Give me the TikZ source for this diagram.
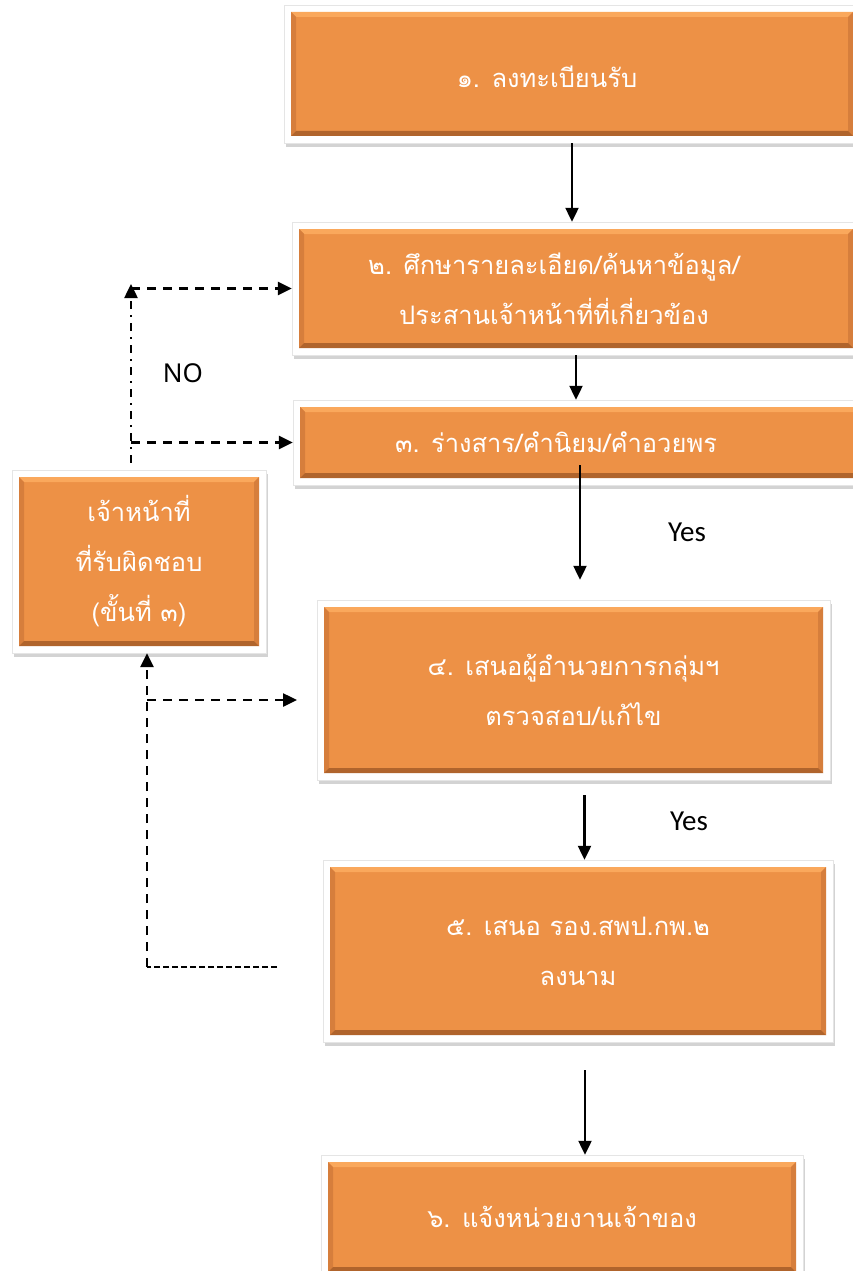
\documentclass[tikz,border=0pt]{standalone}
\usepackage{fontspec}
\usetikzlibrary{arrows.meta, shadows}
\newfontfamily\thaifont[Script=Thai]{Loma}
\newfontfamily\yesfont{Carlito}
\newfontfamily\nofont{Noto Sans}
\definecolor{boxorange}{RGB}{237,145,70}
\definecolor{bevlight}{RGB}{250,168,92}
\definecolor{bevside}{RGB}{214,126,60}
\definecolor{bevdark}{RGB}{176,100,44}

% orange face with a bevelled edge, inside the white frame
\newcommand{\bevelface}{%
  \coordinate (p1) at ([shift={(7pt,7pt)}]path picture bounding box.south west);
  \coordinate (p2) at ([shift={(-7pt,7pt)}]path picture bounding box.south east);
  \coordinate (p3) at ([shift={(-7pt,-7pt)}]path picture bounding box.north east);
  \coordinate (p4) at ([shift={(7pt,-7pt)}]path picture bounding box.north west);
  \fill[boxorange] (p1) rectangle (p3);
  \fill[bevlight] (p4) -- (p3) -- ([shift={(-5pt,-5pt)}]p3) -- ([shift={(5pt,-5pt)}]p4) -- cycle;
  \fill[bevside] (p4) -- (p1) -- ([shift={(5pt,5pt)}]p1) -- ([shift={(5pt,-5pt)}]p4) -- cycle;
  \fill[bevside] (p3) -- (p2) -- ([shift={(-5pt,5pt)}]p2) -- ([shift={(-5pt,-5pt)}]p3) -- cycle;
  \fill[bevdark] (p1) -- (p2) -- ([shift={(-5pt,5pt)}]p2) -- ([shift={(5pt,5pt)}]p1) -- cycle;
}

\begin{document}
\begin{tikzpicture}
  [
    x = 1pt, y = -1pt,  % one unit per pixel, downwards
    stepbox/.style = {rectangle, fill=white, draw=black!10, inner sep=0pt,
      drop shadow={shadow xshift=1.5pt, shadow yshift=-4pt, opacity=.35},
      path picture={\bevelface}},
    steptext/.style = {text=white, align=center, inner sep=0pt,
      font=\thaifont\fontsize{25.5}{50}\selectfont},
    flow/.style = {line width=2.2pt, -{Triangle[length=14pt, width=13pt]}},
    backline/.style = {line width=2.5pt, dash pattern=on 9pt off 7pt,
      -{Triangle[length=14pt, width=13pt]}},
    backdashdot/.style = {line width=2.5pt,
      dash pattern=on 8pt off 6pt on 2pt off 6pt,
      -{Triangle[length=14pt, width=13pt]}},
    thindash/.style = {line width=1.5pt, dash pattern=on 6pt off 3pt}
  ]
  \useasboundingbox (0,0) rectangle (852,1271);

  \node[stepbox, minimum width=576pt, minimum height=138pt] (n1) at (572,74) {};
  \node[stepbox, minimum width=568pt, minimum height=133pt] (n2) at (576,288.5) {};
  \node[stepbox, minimum width=574pt, minimum height=85pt] (n3) at (580,442.5) {};
  % texts sit left of the box centres
  \node[steptext] (t1) at ([xshift=-25pt, yshift=-3pt]n1.center) {๑. ลงทะเบียนรับ};
  \node[steptext] (t2) at ([xshift=-22pt]n2.center)
    {๒. ศึกษารายละเอียด/ค้นหาข้อมูล/\\ประสานเจ้าหน้าที่ที่เกี่ยวข้อง};
  \node[steptext] (t3) at ([xshift=-24pt]n3.center) {๓. ร่างสาร/คำนิยม/คำอวยพร};

  \node[stepbox, steptext, minimum width=254pt, minimum height=183pt] (staff)
    at (139,561.5) {เจ้าหน้าที่\\ที่รับผิดชอบ\\(ขั้นที่ ๓)};
  \node[stepbox, steptext, minimum width=513pt, minimum height=180pt] (n4)
    at (573.5,690) {๔. เสนอผู้อำนวยการกลุ่มฯ\\ตรวจสอบ/แก้ไข};
  \node[stepbox, steptext, minimum width=510pt, minimum height=182pt] (n5)
    at (578,951) {๕. เสนอ รอง.สพป.กพ.๒\\ลงนาม};
  \node[stepbox, steptext, minimum width=482pt, minimum height=124pt] (n6)
    at (562,1217) {๖. แจ้งหน่วยงานเจ้าของ};

  \node[font=\yesfont\fontsize{29}{32}\selectfont] (yes1) at (687,532) {Yes};
  \node[font=\yesfont\fontsize{29}{32}\selectfont] (yes2) at (689,821) {Yes};
  \node[font=\nofont\fontsize{26}{30}\selectfont] (no) at (183,373) {NO};

  \draw[flow] (n1.south) -- (n1.south |- n2.north);
  \draw[flow] (n2.south) -- (n2.south |- n3.north);
  \draw[flow] ([yshift=20pt]n3.south) -- ([yshift=20pt]n3.south |- n4.north);
  \draw[flow] ([xshift=11pt, yshift=-15pt]n4.south) -- ([xshift=11pt]n4.south |- n5.north);
  \draw[flow] ([xshift=7pt, yshift=-28pt]n5.south) -- ([xshift=7pt]n5.south |- n6.north);

  \coordinate (backtop) at (131,284);
  \coordinate (backmid) at (297,700);
  \coordinate (backcorner) at (147,967);
  \coordinate (backlow) at (277,967);
  \draw[backdashdot] ([xshift=-8pt, yshift=7pt]staff.north) -- (backtop);
  \draw[backline] (backtop |- n2.west) -- (n2.west);
  \draw[backline] (backtop |- n3.west) -- (n3.west);
  \draw[thindash] (backlow) -- (backcorner);
  \draw[backline] (backcorner) -- ([xshift=8pt]staff.south);
  \draw[backline] (backcorner |- backmid) -- (backmid);
\end{tikzpicture}
\end{document}
